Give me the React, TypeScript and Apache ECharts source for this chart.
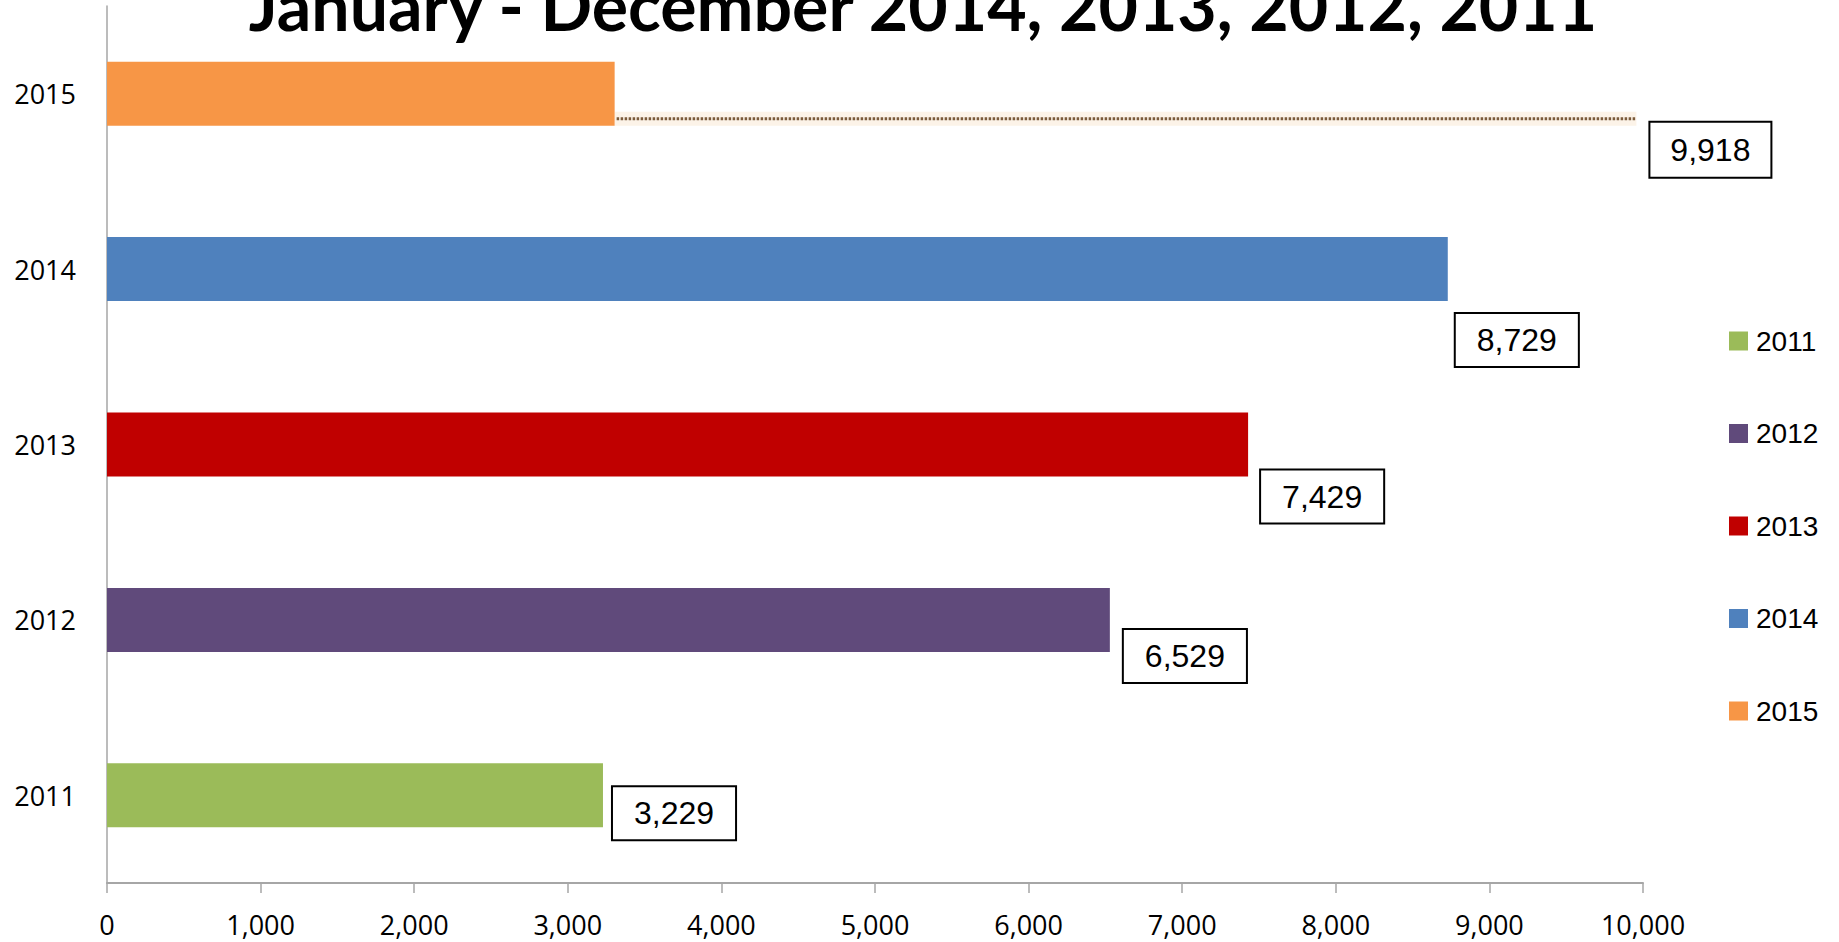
import React, { useEffect, useRef } from "react";
import * as echarts from "echarts";

const categories = ["2011", "2012", "2013", "2014", "2015"];
const values = [3229, 6529, 7429, 8729, 3305];
const projection2015 = 9918;
const seriesColors = ["#9BBB59", "#604A7B", "#C00000", "#4F81BD", "#F79646"];
const labelOffsets = [
  [10, 18],
  [14, 36],
  [13, 52],
  [8, 71],
];
const xTicks = { min: 0, max: 10000, interval: 1000 };
const titleText = "January - December 2014, 2013, 2012, 2011";

const fmt = (v: number) => Number(v).toLocaleString("en-US");

export default function App() {
  const ref = useRef<HTMLDivElement>(null);
  useEffect(() => {
    if (!ref.current) return;
    const chart = echarts.init(ref.current, null, { renderer: "svg" });
    const barSeries = categories.map((name, i) => ({
      type: "bar",
      name,
      stack: "all",
      barCategoryGap: "63.5%",
      itemStyle: { color: seriesColors[i] },
      data: categories.map((_, j) => (j === i ? values[i] : "-")),
      label:
        i < 4
          ? {
              show: true,
              position: "right",
              distance: 0,
              offset: labelOffsets[i],
              formatter: (p: any) => fmt(p.value),
              fontSize: 32,
              lineHeight: 32,
              fontFamily: "Liberation Sans",
              color: "#000",
              backgroundColor: "#fff",
              borderColor: "#000",
              borderWidth: 2,
              padding: [10, 21],
            }
          : { show: false },
    }));
    const projSeries = {
      type: "custom",
      name: "projection",
      clip: false,
      z: 5,
      encode: { x: [0, 1], y: 2 },
      data: [[values[4], projection2015, 4]],
      renderItem: (params: any, api: any) => {
        const s = api.coord([api.value(0), api.value(2)]);
        const e = api.coord([api.value(1), api.value(2)]);
        const band = api.size([0, 1])[1];
        const y = s[1] + band * 0.143;
        const bx = e[0] + 19;
        const by = s[1] + 56;
        return {
          type: "group",
          children: [
            {
              type: "line",
              shape: { x1: s[0], y1: y, x2: e[0] + 6, y2: y },
              style: { stroke: "rgba(240,200,150,0.22)", lineWidth: 14 },
            },
            {
              type: "line",
              shape: { x1: s[0] + 2, y1: y, x2: e[0] + 6, y2: y },
              style: { stroke: "#7A5A3A", lineWidth: 3, lineDash: [2.5, 1.5] },
            },
            {
              type: "rect",
              shape: { x: bx, y: by - 28, width: 122, height: 56 },
              style: { fill: "#fff", stroke: "#000", lineWidth: 2 },
            },
            {
              type: "text",
              style: {
                text: fmt(api.value(1)),
                x: bx + 61,
                y: by,
                align: "center",
                verticalAlign: "middle",
                fontSize: 32,
                fontFamily: "Liberation Sans",
                fill: "#000",
              },
            },
          ],
        };
      },
    };
    chart.setOption({
      animation: false,
      backgroundColor: "#fff",
      graphic: [
        {
          type: "text",
          x: 923,
          y: 4,
          z: 10,
          style: {
            text: titleText,
            align: "center",
            verticalAlign: "middle",
            fontSize: 68,
            fontWeight: "bold",
            fontFamily: "Lato",
            fill: "#000",
          },
        },
      ],
      legend: {
        data: categories,
        orient: "vertical",
        left: 1724,
        top: 322,
        itemWidth: 19,
        itemHeight: 19,
        itemGap: 64.5,
        icon: "rect",
        selectedMode: false,
        textStyle: {
          fontSize: 28,
          lineHeight: 28,
          fontFamily: "Liberation Sans",
          color: "#000",
          padding: [0, 0, 0, 3],
        },
      },
      grid: { left: 107, right: 196, top: 6, bottom: 59, containLabel: false },
      xAxis: {
        type: "value",
        min: xTicks.min,
        max: xTicks.max,
        interval: xTicks.interval,
        axisLine: { show: true, lineStyle: { color: "#A6A6A6", width: 2 } },
        axisTick: { show: true, length: 10, lineStyle: { color: "#A6A6A6", width: 1.5 } },
        splitLine: { show: false },
        axisLabel: {
          formatter: (v: number) => fmt(v),
          fontSize: 27,
          fontFamily: "Open Sans",
          color: "#000",
          margin: 28,
        },
      },
      yAxis: {
        type: "category",
        data: categories,
        axisLine: { show: true, lineStyle: { color: "#A6A6A6", width: 1.5 } },
        axisTick: { show: false },
        axisLabel: {
          fontSize: 27,
          fontFamily: "Open Sans",
          color: "#000",
          margin: 31,
        },
      },
      series: [...barSeries, projSeries],
    });
    return () => chart.dispose();
  }, []);
  return (
    <div
      ref={ref}
      style={{ position: "fixed", left: 0, top: 0, width: 1839, height: 942 }}
    />
  );
}
